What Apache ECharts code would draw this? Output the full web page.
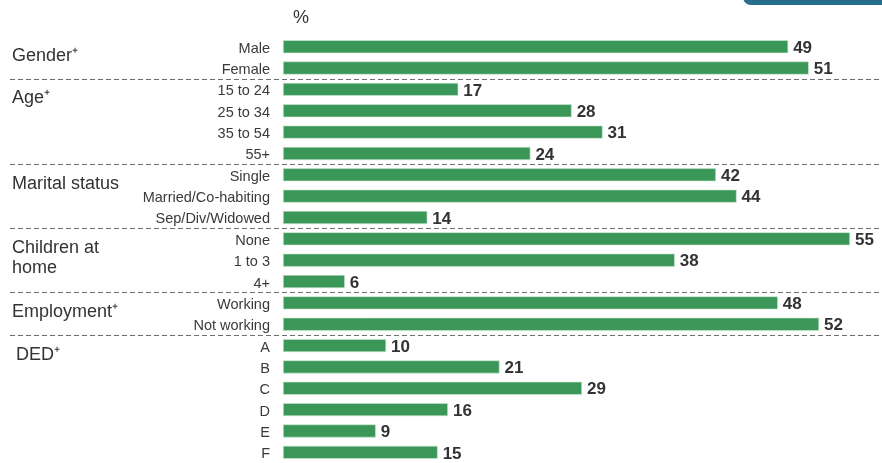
<!DOCTYPE html>
<html>
<head>
<meta charset="utf-8">
<script src="https://cdn.jsdelivr.net/npm/echarts@6/dist/echarts.min.js"></script>
<style>
  html, body { margin: 0; padding: 0; background: #fff; }
  #chart { width: 882px; height: 463px; }
</style>
</head>
<body>
<div id="chart"></div>
<script>
// Profile categories, top to bottom
const categories = [
  'Male', 'Female',
  '15 to 24', '25 to 34', '35 to 54', '55+',
  'Single', 'Married/Co-habiting', 'Sep/Div/Widowed',
  'None', '1 to 3', '4+',
  'Working', 'Not working',
  'A', 'B', 'C', 'D', 'E', 'F'
];
// Share of respondents, %
const values = [
  49, 51,
  17, 28, 31, 24,
  42, 44, 14,
  55, 38, 6,
  48, 52,
  10, 21, 29, 16, 9, 15
];
// Group headings and how many categories each covers
const groupNames = ['Gender⁺', 'Age⁺', 'Marital status', 'Children at\nhome', 'Employment⁺', 'DED⁺'];
const groupSizes = [2, 4, 3, 3, 2, 6];
const unitLabel = '%';

const FONT = '"Liberation Sans", Arial, Helvetica, sans-serif';
const chart = echarts.init(document.getElementById('chart'), null, { renderer: 'canvas' });

chart.setOption({
  animation: false,
  backgroundColor: '#ffffff',
  grid: { left: 283, top: 36, width: 567, height: 427, containLabel: false },
  xAxis: {
    type: 'value', min: 0, max: 55,
    show: false
  },
  yAxis: {
    type: 'category',
    data: categories,
    inverse: true,
    axisLine: { show: false },
    axisTick: { show: false },
    axisLabel: {
      margin: 13,
      formatter: (v) => '{c|' + v + '}',
      rich: {
        c: {
          fontSize: 14.5,
          padding: [4, 0, 0, 0],
          fontFamily: FONT,
          color: '#3a3a3a'
        }
      }
    }
  },
  series: [{
    type: 'bar',
    data: values,
    barWidth: 13,
    itemStyle: { color: '#3b9757', borderColor: '#cfe7d6', borderWidth: 0.6 },
    label: {
      show: true,
      position: 'right',
      distance: 5,
      offset: [0, 1.5],
      fontSize: 17,
      fontWeight: 'bold',
      fontFamily: FONT,
      color: '#333333'
    }
  }]
});

// Group headings and dashed dividers placed from the category axis
const yOf = (i) => chart.convertToPixel({ yAxisIndex: 0 }, categories[i]);
const graphics = [];
let start = 0;
groupNames.forEach((name, g) => {
  const y0 = yOf(start);
  graphics.push({
    type: 'text',
    silent: true,
    style: {
      text: name,
      x: g === groupNames.length - 1 ? 16 : 12,
      y: y0 - 1,
      verticalAlign: 'top',
      fontSize: 18,
      lineHeight: 20,
      fontFamily: FONT,
      fill: '#333333'
    }
  });
  const end = start + groupSizes[g];
  if (end < categories.length) {
    const ys = Math.round((yOf(end - 1) + yOf(end)) / 2) + 0.5;
    graphics.push({
      type: 'line',
      silent: true,
      shape: { x1: 10, y1: ys, x2: 882, y2: ys },
      style: { stroke: '#6f6f6f', lineWidth: 1, lineDash: [5, 3] }
    });
  }
  start = end;
});

// Unit marker above the bars
graphics.push({
  type: 'text',
  silent: true,
  style: {
    text: unitLabel,
    x: 293, y: 9,
    fontSize: 18,
    fontFamily: FONT,
    fill: '#333333'
  }
});

// Header tab in the top-right corner
graphics.push({
  type: 'rect',
  silent: true,
  shape: { x: 743, y: -14, width: 160, height: 19, r: 8 },
  style: { fill: '#256f8d' }
});

chart.setOption({ graphic: graphics });
</script>
</body>
</html>
